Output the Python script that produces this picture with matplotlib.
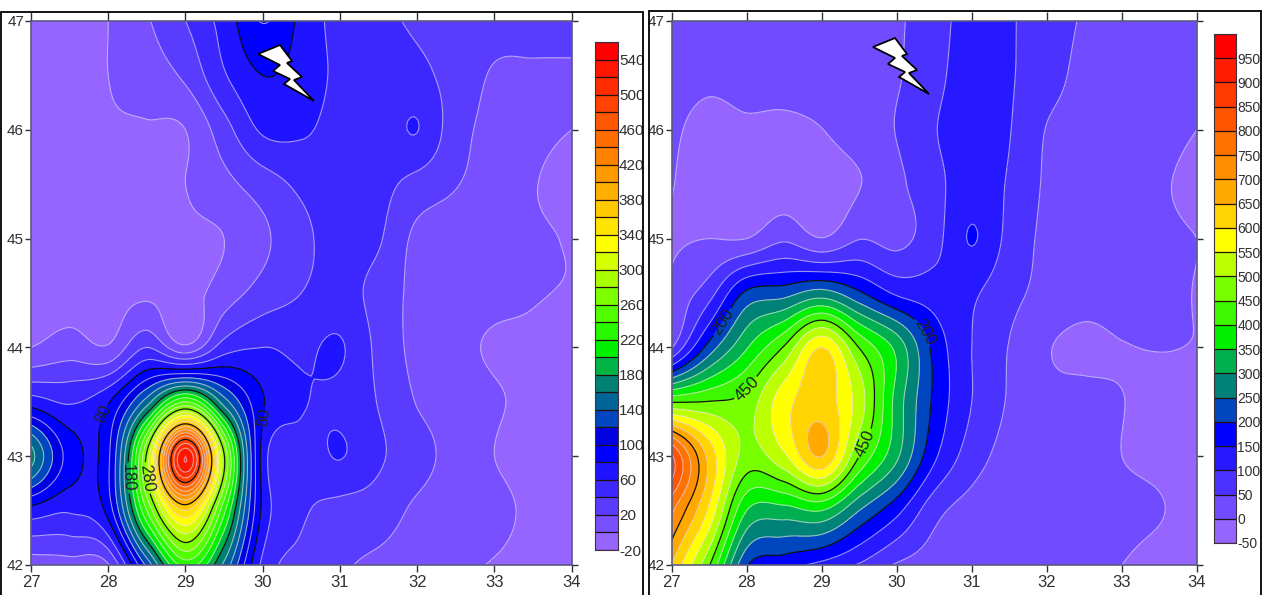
import numpy as np
import matplotlib
matplotlib.use('Agg')
import matplotlib.pyplot as plt
from matplotlib.colors import ListedColormap, BoundaryNorm
from matplotlib.patches import Polygon, Rectangle

plt.rcParams['font.family'] = ['Liberation Sans', 'DejaVu Sans']
plt.rcParams['axes.unicode_minus'] = False

W, H = 1267, 595

# grid of the maps, rows go from north to south
lon = np.arange(27, 34.5, 0.5)
lat = np.arange(47, 41.5, -0.5)

grid_left = [
    [-12, -8, 0, 18, 40, 68, 101, 75, 52, 45, 37, 32, 28, 26, 24],
    [-12, -8, 0, 10, 24, 58, 80, 72, 55, 47, 45, 32, 18, 17, 17],
    [-12, -10, -3, -2, 0, 32, 63, 63, 52, 48, 60.5, 28, 14, 6, 0],
    [-15, -14, -12, -8, 0, 14, 30, 44, 50, 46, 33, 21, 12, 1, -5],
    [-15, -15, -14, -10, -4, 0, 16, 35, 47, 42, 15, 9, 5, 2, -1],
    [-8, -10, -8, -4, -8, 10, 28, 40, 47, 33, 14, 7, 4, 1, -1],
    [0, 10, 2, 40, 5, 50, 60, 56, 62, 35, 14, 5, -2, -3, -8],
    [70, 58, 78, 150, 240, 150, 82, 62, 55, 39, 19, 10, 2, -4, -8],
    [168, 92, 96, 285, 540, 282, 72, 51, 61, 43, 28, 12, 0, -7, -10],
    [72, 62, 88, 240, 360, 225, 75, 44, 33, 30, 16, 8, 5, -4, -9],
    [8, 12, 18, 125, 228, 155, 55, 33, 23, 15, 8, 3, -1, -6, -10],
]
grid_right = [
    [25, 25, 25, 28, 32, 38, 45, 75, 125, 105, 75, 45, 30, 25, 22],
    [20, 10, 18, 22, 28, 38, 46, 85, 125, 105, 68, 38, 28, 24, 20],
    [8, -15, -8, -12, -1, 25, 52, 97, 125, 102, 48, 35, 25, 15, 0],
    [2, -22, -25, -25, -22, -2, 38, 85, 125, 95, 43, 27, 15, 5, -12],
    [-5, 0, 0, 42, 2, 48, 35, 82, 153, 85, 38, 22, 15, 8, 0],
    [10, 80, 210, 230, 270, 208, 142, 125, 108, 65, 35, 18, 22, 12, -2],
    [45, 220, 345, 455, 600, 448, 335, 185, 100, 48, 4, -12, -2, 1, -1],
    [445, 452, 470, 580, 625, 525, 330, 190, 100, 45, 14, 14, 1, -10, -12],
    [860, 635, 482, 540, 652, 450, 310, 160, 75, 32, 15, 12, 0, -8, -15],
    [760, 590, 350, 330, 350, 250, 165, 68, 30, 15, 12, 10, 8, 2, -15],
    [650, 455, 205, 170, 135, 95, 45, 25, 8, 1, 8, 3, 0, -12, -18],
]

levels_left = np.arange(-20, 561, 20)
levels_right = np.arange(-50, 1001, 50)
major_left = [80, 180, 280, 380, 480]
major_right = [200, 450, 700, 950]

xticks = [27, 28, 29, 30, 31, 32, 33, 34]
yticks = [42, 43, 44, 45, 46, 47]

# colour stops: value inside band -> rgb
stops_left = [(-10, (150, 100, 255)), (90, (0, 0, 255)), (110, (0, 0, 225)), (130, (0, 70, 190)),
              (150, (0, 100, 150)), (170, (0, 130, 115)), (190, (0, 180, 70)), (210, (0, 240, 0)),
              (250, (80, 255, 0)), (330, (255, 255, 0)), (390, (255, 175, 0)), (550, (255, 0, 0))]
stops_right = [(-25, (150, 100, 255)), (175, (0, 0, 255)), (225, (0, 70, 190)), (275, (0, 130, 120)),
               (325, (0, 175, 80)), (375, (0, 240, 0)), (475, (120, 255, 0)), (575, (255, 255, 0)),
               (675, (255, 170, 0)), (975, (255, 0, 0))]

labels_left = [(27.96, 43.38), (30.07, 43.35), (28.26, 42.8), (28.51, 42.8)]
labels_right = [(27.78, 44.19), (30.26, 44.1), (28.0, 43.62), (29.57, 43.12)]

# lightning sign in pixels of the picture (left map)
bolt = [(258, 54), (280, 45), (292, 61), (287, 63), (302, 77), (294, 80), (314, 101),
        (284, 84), (290, 79), (273, 71), (280, 65)]


def fine(z, n=12):
    # catmull-rom along the first axis, only to round off the contours
    p = np.concatenate([[2 * z[0] - z[1]], z, [2 * z[-1] - z[-2]]])
    t = np.linspace(0, z.shape[0] - 1, (z.shape[0] - 1) * n + 1)
    i = np.minimum(t.astype(int), z.shape[0] - 2)
    u = (t - i)[(...,) + (None,) * (z.ndim - 1)]
    p0, p1, p2, p3 = p[i], p[i + 1], p[i + 2], p[i + 3]
    return 0.5 * (2 * p1 + (p2 - p0) * u + (2 * p0 - 5 * p1 + 4 * p2 - p3) * u ** 2
                  + (3 * p1 - p0 - 3 * p2 + p3) * u ** 3)


def band_colors(levels, stops):
    mid = (levels[:-1] + levels[1:]) / 2
    vals = [s[0] for s in stops]
    rgb = np.array([s[1] for s in stops]) / 255
    return [tuple(np.interp(m, vals, rgb[:, k]) for k in range(3)) for m in mid]


def px_axes(x0, y0, x1, y1):
    return fig.add_axes([x0 / W, 1 - y1 / H, (x1 - x0) / W, (y1 - y0) / H])


def draw_map(box, grid, levels, major, stops, label_pos, cbox, tick_step, cfont):
    ax = px_axes(*box)
    z = np.array(grid, dtype=float)
    zf = fine(fine(z).T).T
    xf = np.linspace(lon[0], lon[-1], zf.shape[1])
    yf = np.linspace(lat[0], lat[-1], zf.shape[0])
    cols = band_colors(levels, stops)
    cmap = ListedColormap(cols)
    norm = BoundaryNorm(levels, cmap.N)
    ax.contourf(xf, yf, np.clip(zf, levels[0], levels[-1]), levels=levels, cmap=cmap, norm=norm)
    minor = [l for l in levels if l not in major]
    ax.contour(xf, yf, zf, levels=minor, colors='#e8e0f0', linewidths=0.8, alpha=0.65)
    cs = ax.contour(xf, yf, zf, levels=major, colors='#101018', linewidths=0.9)
    ax.clabel(cs, fmt='%d', fontsize=12, manual=label_pos, inline=True, inline_spacing=2, colors='#202028')
    ax.set_xlim(27, 34)
    ax.set_ylim(42, 47)
    ax.set_xticks(xticks)
    ax.set_yticks(yticks)
    ax.tick_params(axis='x', labelsize=12, length=5, width=1, color='#303038', labelcolor='#303030', pad=2, top=True)
    ax.tick_params(axis='y', labelsize=11, length=4, width=1, color='#303038', labelcolor='#303030', pad=1, right=True)
    for tick in ax.xaxis.get_major_ticks():
        tick.tick2line.set_markersize(6.5)
    for s in ax.spines.values():
        s.set_color('#5a5a80')
        s.set_linewidth(1.2)

    # colour scale
    cax = px_axes(*cbox)
    cax.pcolormesh([0, 1], levels, np.arange(len(cols)).reshape(-1, 1), cmap=cmap, shading='flat')
    cax.hlines(levels, 0, 1, colors='#201010', linewidths=0.9)
    cax.set_xlim(0, 1)
    cax.set_ylim(levels[0], levels[-1])
    cax.set_xticks([])
    cax.yaxis.tick_right()
    cax.set_yticks(levels[::tick_step][:-1] if tick_step == 1 else levels[::tick_step])
    cax.tick_params(axis='y', length=0, labelsize=cfont, labelcolor='#303030', pad=1)
    for s in cax.spines.values():
        s.set_color('#403040')
        s.set_linewidth(0.8)
    return ax


fig = plt.figure(figsize=(W / 100, H / 100), dpi=100, facecolor='white')

draw_map((31, 21, 571.7, 565), grid_left, levels_left, major_left, stops_left, labels_left,
         (595, 42, 617.5, 550), 2, 11)
draw_map((671.5, 21, 1197, 565), grid_right, levels_right, major_right, stops_right, labels_right,
         (1214, 34, 1236, 543), 1, 10)

# outer frames of both panels
for x0, y0, x1, y1 in [(1, 12, 643, 600), (649, 11, 1261, 600)]:
    fig.add_artist(Rectangle((x0 / W, 1 - y1 / H), (x1 - x0) / W, (y1 - y0) / H, transform=fig.transFigure,
                             fill=False, edgecolor='black', linewidth=1.3))

for dx, dy in [(0, 0), (615, -7)]:
    pts = [((x + dx) / W, 1 - (y + dy) / H) for x, y in bolt]
    fig.add_artist(Polygon(pts, closed=True, transform=fig.transFigure, facecolor='white',
                           edgecolor='black', linewidth=1.3, zorder=10))

fig.savefig('out.png', dpi=100)
